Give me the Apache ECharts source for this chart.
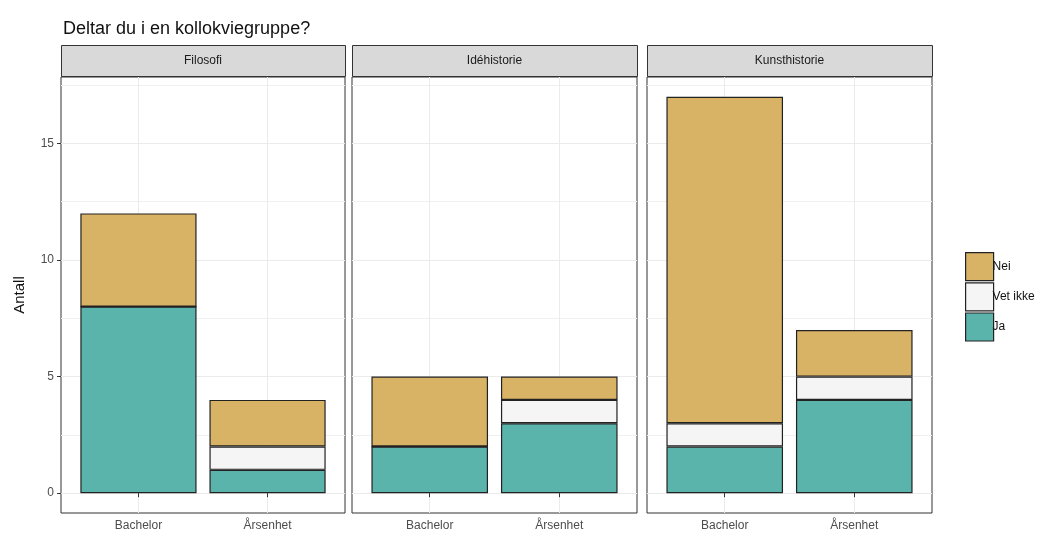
<!DOCTYPE html>
<html>
<head>
<meta charset="utf-8">
<script src="https://cdn.jsdelivr.net/npm/echarts@6/dist/echarts.min.js"></script>
<style>
  html, body { margin: 0; padding: 0; background: #fff; }
  #main { width: 1044px; height: 536px; }
</style>
</head>
<body>
<div id="main"></div>
<script>
// facets and x categories
var panels = ['Filosofi', 'Idéhistorie', 'Kunsthistorie'];
var levels = ['Bachelor', 'Årsenhet'];
// counts per panel: [Bachelor, Årsenhet]
var ja = [[8, 1], [2, 3], [2, 4]];
var vetIkke = [[0, 1], [0, 1], [1, 1]];
var nei = [[4, 2], [3, 1], [14, 2]];
var yTicks = [0, 5, 10, 15];
var yMinor = [2.5, 7.5, 12.5, 17.5];

var colors = { 'Ja': '#5AB4AC', 'Vet ikke': '#F5F5F5', 'Nei': '#D8B365' };
var font = 'Liberation Sans, Arial, sans-serif';
var yMin = -0.85, yMax = 17.85;

var chart = echarts.init(document.getElementById('main'));

var boxes = [
	{ left: 61, width: 284 },
	{ left: 352, width: 285 },
	{ left: 647, width: 285 }
];
var panelTop = 77, panelHeight = 436;

var grids = [], xAxes = [], yAxes = [], series = [], graphics = [];

boxes.forEach(function (b, i) {
	var g = grids.length;
	// outer panel: frame, grid lines, ticks and labels
	grids.push({
		left: b.left, top: panelTop, width: b.width, height: panelHeight,
		show: true, backgroundColor: '#fff', borderColor: '#333', borderWidth: 1
	});
	xAxes.push({
		gridIndex: g, type: 'value', min: 0.4, max: 2.6,
		axisLine: { show: false },
		axisTick: { show: true, customValues: [1, 2], length: 4, lineStyle: { color: '#333' } },
		axisLabel: {
			customValues: [1, 2], color: '#4D4D4D', fontSize: 12, fontFamily: font, margin: 7,
			formatter: function (v) { return levels[Math.round(v) - 1]; }
		},
		splitLine: { show: true, lineStyle: { color: '#EBEBEB', width: 1 } }
	});
	yAxes.push({
		gridIndex: g, type: 'value', min: yMin, max: yMax,
		axisLine: { show: false },
		axisTick: { show: i === 0, customValues: yTicks, length: 4, lineStyle: { color: '#333' } },
		axisLabel: { show: i === 0, customValues: yTicks, color: '#4D4D4D', fontSize: 12, fontFamily: font, margin: 7 },
		splitLine: { show: true, lineStyle: { color: '#EBEBEB', width: 1 } },
		name: i === 0 ? 'Antall' : '',
		nameLocation: 'middle', nameRotate: 90, nameGap: 34,
		nameTextStyle: { color: '#111', fontSize: 15, fontFamily: font }
	});

	// minor grid lines
	grids.push({ left: b.left, top: panelTop, width: b.width, height: panelHeight });
	xAxes.push({ gridIndex: g + 1, type: 'value', min: 0.4, max: 2.6, show: false });
	yAxes.push({
		gridIndex: g + 1, type: 'value', min: yMin, max: yMax,
		axisLine: { show: false },
		axisTick: { show: false, customValues: yMinor },
		axisLabel: { show: false, customValues: yMinor },
		splitLine: { show: true, lineStyle: { color: '#F0F0F0', width: 1 } }
	});

	// inner grid for the bars (discrete scale expands 0.6 on each side)
	grids.push({
		left: b.left + b.width / 22, top: panelTop, width: b.width / 1.1, height: panelHeight
	});
	xAxes.push({
		gridIndex: g + 2, type: 'category', data: levels, boundaryGap: true,
		axisLine: { show: false }, axisTick: { show: false }, axisLabel: { show: false }, splitLine: { show: false }
	});
	yAxes.push({
		gridIndex: g + 2, type: 'value', min: yMin, max: yMax,
		axisLine: { show: false }, axisTick: { show: false }, axisLabel: { show: false }, splitLine: { show: false }
	});

	[['Ja', ja], ['Vet ikke', vetIkke], ['Nei', nei]].forEach(function (s) {
		series.push({
			name: s[0], type: 'bar', stack: 'p' + i,
			xAxisIndex: g + 2, yAxisIndex: g + 2,
			barWidth: '90%',
			data: s[1][i],
			itemStyle: { color: colors[s[0]], borderColor: '#222', borderWidth: 1.2 },
			emphasis: { disabled: true }
		});
	});

	// facet strip
	graphics.push({
		type: 'rect', left: b.left, top: 45,
		shape: { width: b.width, height: 31 },
		style: { fill: '#D9D9D9', stroke: '#333', lineWidth: 1 }
	});
	graphics.push({
		type: 'text', x: b.left + b.width / 2, y: 61,
		style: { text: panels[i], textAlign: 'center', textVerticalAlign: 'middle', fill: '#1A1A1A', fontSize: 12, fontFamily: font }
	});
});

var option = {
	backgroundColor: '#fff',
	animation: false,
	title: {
		text: 'Deltar du i en kollokviegruppe?',
		left: 58, top: 15,
		textStyle: { color: '#111', fontSize: 18, fontWeight: 'normal', fontFamily: font }
	},
	legend: {
		data: ['Nei', 'Vet ikke', 'Ja'],
		orient: 'vertical', left: 960, top: 247,
		itemWidth: 28, itemHeight: 28, itemGap: 1,
		icon: 'rect',
		itemStyle: { borderWidth: 1.2, borderColor: '#222' },
		textStyle: { color: '#111', fontSize: 12, fontFamily: font, padding: [0, 0, 0, -6] },
		selectedMode: false
	},
	grid: grids,
	xAxis: xAxes,
	yAxis: yAxes,
	graphic: graphics,
	series: series
};

chart.setOption(option);
</script>
</body>
</html>
